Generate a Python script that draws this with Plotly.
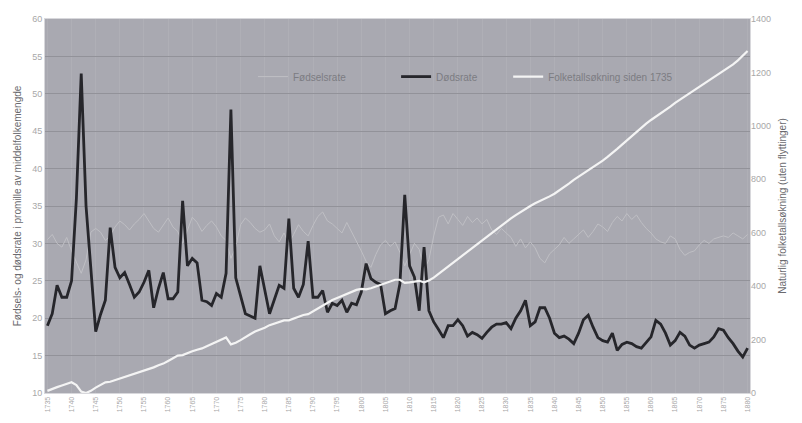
import plotly.graph_objects as go

years = list(range(1735, 1881))

death_rate = [
    19.0, 20.6, 24.4, 22.8, 22.8, 25.0, 36.0, 52.7, 35.0, 26.0,
    18.2, 20.5, 22.4, 32.1, 26.8, 25.4, 26.1, 24.5, 22.8, 23.5,
    24.8, 26.4, 21.4, 24.0, 26.1, 22.6, 22.6, 23.5, 35.7, 27.0,
    28.0, 27.4, 22.4, 22.2, 21.7, 23.3, 22.8, 26.0, 47.9, 25.4,
    23.0, 20.6, 20.3, 20.0, 27.0, 24.0, 20.6, 22.5, 24.4, 24.0,
    33.3, 24.0, 22.8, 24.5, 30.3, 22.8, 22.8, 23.7, 20.8, 22.0,
    21.7, 22.4, 20.8, 22.0, 21.8, 23.5, 27.3, 25.3, 24.8, 24.5,
    20.6, 21.0, 21.3, 24.6, 36.5, 27.0, 25.5, 21.0, 29.5, 21.0,
    19.5, 18.5, 17.4, 19.0, 19.0, 19.8, 19.0, 17.6, 18.1, 17.8,
    17.3, 18.1, 18.8, 19.2, 19.2, 19.4, 18.6, 20.0, 21.0, 22.4,
    19.0, 19.5, 21.4, 21.4, 20.0, 18.0, 17.4, 17.6, 17.2, 16.6,
    18.0, 19.8, 20.4, 18.8, 17.4, 17.0, 16.8, 18.0, 15.7, 16.5,
    16.8, 16.6, 16.2, 16.0, 16.8, 17.5, 19.7, 19.2, 18.0, 16.4,
    17.0, 18.1, 17.6, 16.4, 16.0, 16.4, 16.6, 16.8, 17.5, 18.6,
    18.4, 17.4, 16.6, 15.6, 14.8, 16.0,
]

birth_rate = [
    30.5, 31.2, 30.0, 29.5, 30.8, 29.0, 27.5, 26.0, 27.8, 31.5,
    32.0, 31.5, 30.4, 31.0, 32.2, 33.0, 32.5, 31.8, 32.6, 33.2,
    34.0, 33.0, 32.0, 31.5, 32.5, 33.4, 32.2, 31.6, 30.0, 31.8,
    33.5, 32.8, 31.6, 32.4, 33.0, 32.2, 31.0, 30.4, 28.0, 29.5,
    32.5, 33.4, 32.8, 32.0, 31.5, 31.8, 32.6, 31.0, 30.2, 31.4,
    30.0, 31.2, 32.5, 31.6, 31.0, 32.4, 33.6, 34.2, 33.0, 32.6,
    32.0, 31.4, 32.8, 31.6, 30.2, 29.0, 27.6, 26.8, 28.5, 29.8,
    30.4, 29.6, 30.2, 28.8, 27.0, 28.5, 30.0, 29.2, 26.5, 27.8,
    31.0, 33.5, 33.8, 32.6, 34.0, 33.2, 32.4, 33.6, 32.8, 33.4,
    32.6, 33.2, 31.8, 31.2, 32.0, 31.4, 30.8, 29.6, 30.6, 29.4,
    30.2, 29.4, 28.0, 27.4, 28.6, 29.2, 29.8, 30.8, 30.0, 30.6,
    31.2, 31.8, 30.8, 31.6, 32.6, 32.2, 31.6, 32.8, 33.6, 33.0,
    34.0, 33.2, 33.8, 32.8, 32.0, 31.4, 30.6, 30.2, 30.0, 31.0,
    30.6, 29.2, 28.4, 28.8, 29.0, 29.8, 30.4, 30.0, 30.6, 30.8,
    31.0, 30.8, 31.4, 31.0, 30.6, 31.2,
]

pop_increase = [
    8, 16, 22, 28, 35, 40, 30, 5, 0, 8,
    20, 30, 40, 42, 48, 54, 60, 66, 70, 76,
    84, 90, 96, 104, 110, 120, 130, 140, 142, 150,
    156, 162, 167, 175, 184, 192, 200, 208, 182, 188,
    198, 210, 220, 230, 236, 244, 254, 260, 266, 272,
    272, 278, 284, 292, 295, 306, 318, 328, 338, 348,
    356, 364, 372, 380, 386, 390, 388, 392, 398, 404,
    412, 418, 424, 424, 412, 414, 418, 420, 414, 421,
    432, 446, 460, 474, 488, 502, 515, 528, 542, 556,
    570, 584, 598, 612, 626, 640, 654, 666, 678, 690,
    700, 710, 718, 726, 736, 746, 758, 770, 784, 798,
    810, 822, 832, 844, 856, 870, 884, 898, 914, 930,
    946, 962, 978, 994, 1008, 1022, 1034, 1046, 1058, 1072,
    1086, 1098, 1110, 1122, 1134, 1145, 1157, 1169, 1181, 1192,
    1204, 1216, 1230, 1245, 1262, 1280,
]

tick_years = list(range(1735, 1881, 5))

fig = go.Figure()
fig.add_trace(go.Scatter(x=years, y=birth_rate, name="Fødselsrate", mode="lines",
                         line=dict(color="#bfbfc4", width=1), legend="legend"))
fig.add_trace(go.Scatter(x=years, y=death_rate, name="Dødsrate", mode="lines",
                         line=dict(color="#26262b", width=2.8), legend="legend2"))
fig.add_trace(go.Scatter(x=years, y=pop_increase, name="Folketallsøkning siden 1735", mode="lines",
                         line=dict(color="#f4f4f4", width=2.2), yaxis="y2", legend="legend3"))

leg_common = dict(orientation="h", yanchor="middle", xanchor="left", y=0.846,
                  bgcolor="rgba(0,0,0,0)", font=dict(size=10, color="#7c7c82"),
                  itemwidth=30)

fig.update_layout(
    width=802, height=423,
    margin=dict(l=37, r=60, t=6, b=38),
    paper_bgcolor="white",
    plot_bgcolor="#a9a9b1",
    font=dict(family="Liberation Sans, Arial", color="#a0a0a0", size=9),
    showlegend=True,
    legend=dict(x=0.295, **leg_common),
    legend2=dict(x=0.498, **leg_common),
    legend3=dict(x=0.657, **leg_common),
    xaxis=dict(range=[1734.5, 1880.5], tickmode="array", tickvals=tick_years,
               ticktext=[str(y) for y in tick_years], tickangle=-90,
               tickfont=dict(size=7, color="#a8a8a8"),
               showgrid=True, gridcolor="rgba(255,255,255,0.07)", gridwidth=1,
               zeroline=False, showline=True, linecolor="#d8d8dc", linewidth=1, mirror=True,
               ticks=""),
    yaxis=dict(range=[10, 60], dtick=5, tickfont=dict(size=9, color="#a8a8a8"),
               showgrid=True, gridcolor="#929299", gridwidth=1, zeroline=False,
               showline=True, linecolor="#d8d8dc", linewidth=1, mirror=True, ticks="",
               title=dict(text="Fødsels- og dødsrate i promille av middelfolkemengde",
                          font=dict(size=10, color="#6a6a6e"), standoff=8)),
    yaxis2=dict(range=[0, 1400], dtick=200, overlaying="y", side="right",
                tickfont=dict(size=9, color="#a8a8a8"), showgrid=False, zeroline=False,
                ticks="",
                title=dict(text="Naturlig folketallsøkning (uten flyttinger)",
                           font=dict(size=10, color="#6a6a6e"), standoff=8)),
)

fig.write_html("out.html")
